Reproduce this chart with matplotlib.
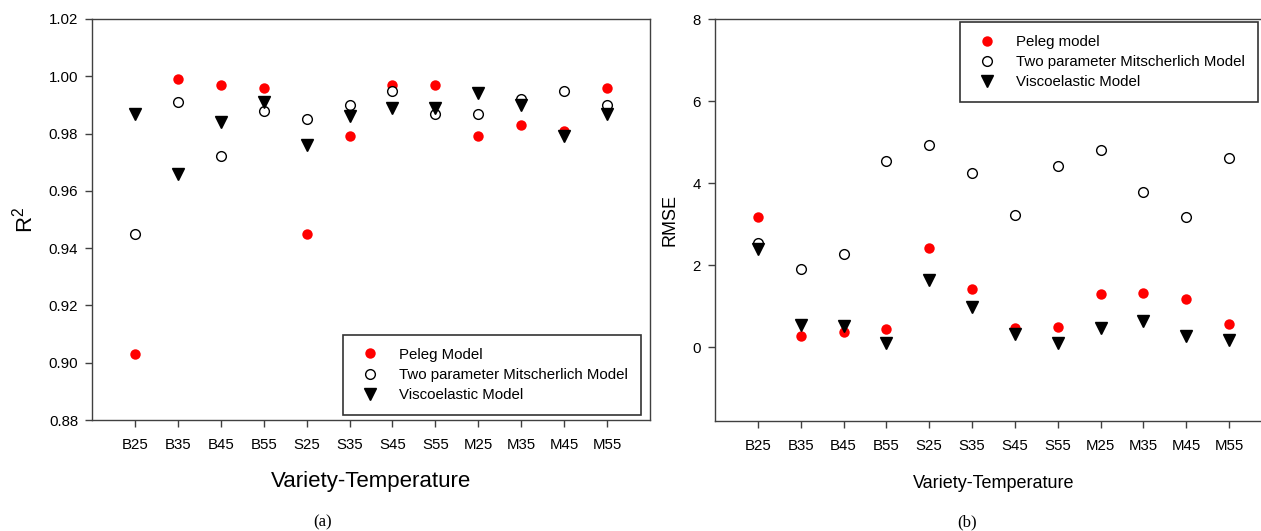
import numpy as np
import matplotlib
matplotlib.use("Agg")
import matplotlib.pyplot as plt

plt.rcParams['font.family'] = ['Liberation Sans', 'DejaVu Sans']
plt.rcParams['mathtext.default'] = 'regular'

# categories (variety-temperature)
categories = ['B25', 'B35', 'B45', 'B55', 'S25', 'S35', 'S45', 'S55',
              'M25', 'M35', 'M45', 'M55']

# (a) R^2 values
r2_peleg = [0.903, 0.999, 0.997, 0.996, 0.945, 0.979, 0.997, 0.997,
            0.979, 0.983, 0.981, 0.996]
r2_mitscherlich = [0.945, 0.991, 0.972, 0.988, 0.985, 0.990, 0.995, 0.987,
                   0.987, 0.992, 0.995, 0.990]
r2_visco = [0.987, 0.966, 0.984, 0.991, 0.976, 0.986, 0.989, 0.989,
            0.994, 0.990, 0.979, 0.987]

# (b) RMSE values
rmse_peleg = [3.17, 0.26, 0.37, 0.45, 2.42, 1.41, 0.47, 0.48,
              1.30, 1.32, 1.18, 0.56]
rmse_mitscherlich = [2.55, 1.90, 2.27, 4.55, 4.94, 4.24, 3.21, 4.42,
                     4.81, 3.79, 3.17, 4.60]
rmse_visco = [2.39, 0.53, 0.51, 0.09, 1.64, 0.97, 0.33, 0.09,
              0.46, 0.65, 0.26, 0.18]

r2_ticks = [0.88, 0.90, 0.92, 0.94, 0.96, 0.98, 1.00, 1.02]
rmse_ticks = [0, 2, 4, 6, 8]

spine_col = '#404040'


def style_axes(ax):
    for s in ax.spines.values():
        s.set_color(spine_col)
        s.set_linewidth(1.0)
    ax.tick_params(direction='out', length=5, width=1.0, color=spine_col,
                   labelsize=10.8)
    ax.tick_params(axis='x', pad=8)
    ax.tick_params(axis='y', pad=5)


def draw_points(ax, a, b, c, labels):
    x = np.arange(1, len(categories) + 1)
    ax.plot(x, a, 'o', color='red', markersize=7.5, markeredgewidth=0,
            label=labels[0])
    ax.plot(x, b, 'o', markerfacecolor='white', markeredgecolor='black',
            markersize=7, markeredgewidth=1.0, label=labels[1])
    ax.plot(x, c, 'v', color='black', markersize=8, label=labels[2])
    ax.set_xticks(x)
    ax.set_xticklabels(categories)
    ax.set_xlim(0, 13)


def add_legend(ax, loc, anchor):
    leg = ax.legend(loc=loc, bbox_to_anchor=anchor,
                    bbox_transform=fig.transFigure, fontsize=10.8, numpoints=1,
                    handlelength=1.9, handletextpad=1.0, borderpad=0.85,
                    labelspacing=0.42, fancybox=False, borderaxespad=0)
    leg.get_frame().set_edgecolor('black')
    leg.get_frame().set_linewidth(1.2)
    return leg


fig = plt.figure(figsize=(12.61, 5.31), dpi=100)

ax1 = fig.add_axes([92 / 1261, 111 / 531, 558 / 1261, 401 / 531])
draw_points(ax1, r2_peleg, r2_mitscherlich, r2_visco,
            ['Peleg Model', 'Two parameter Mitscherlich Model', 'Viscoelastic Model'])
ax1.set_ylim(0.88, 1.02)
ax1.set_yticks(r2_ticks)
ax1.set_yticklabels(['%.2f' % t for t in r2_ticks])
ax1.set_ylabel('R$^{2}$', fontsize=16, labelpad=8)
ax1.set_xlabel('Variety-Temperature', fontsize=16, labelpad=14)
style_axes(ax1)
add_legend(ax1, 'lower right', (641 / 1261, 116 / 531))

ax2 = fig.add_axes([715 / 1261, 110 / 531, 557 / 1261, 402 / 531])
draw_points(ax2, rmse_peleg, rmse_mitscherlich, rmse_visco,
            ['Peleg model', 'Two parameter Mitscherlich Model', 'Viscoelastic Model'])
ax2.set_ylim(-1.8, 8)
ax2.set_yticks(rmse_ticks)
ax2.set_ylabel('RMSE', fontsize=13, labelpad=10)
ax2.set_xlabel('Variety-Temperature', fontsize=13, labelpad=16)
style_axes(ax2)
add_legend(ax2, 'upper right', (1258 / 1261, 509 / 531))

fig.text(323 / 1261, 9 / 531, '(a)', ha='center', va='center', fontsize=12,
         family='Liberation Serif')
fig.text(967 / 1261, 9 / 531, '(b)', ha='center', va='center', fontsize=12,
         family='Liberation Serif')

fig.savefig('out.png', dpi=100)
